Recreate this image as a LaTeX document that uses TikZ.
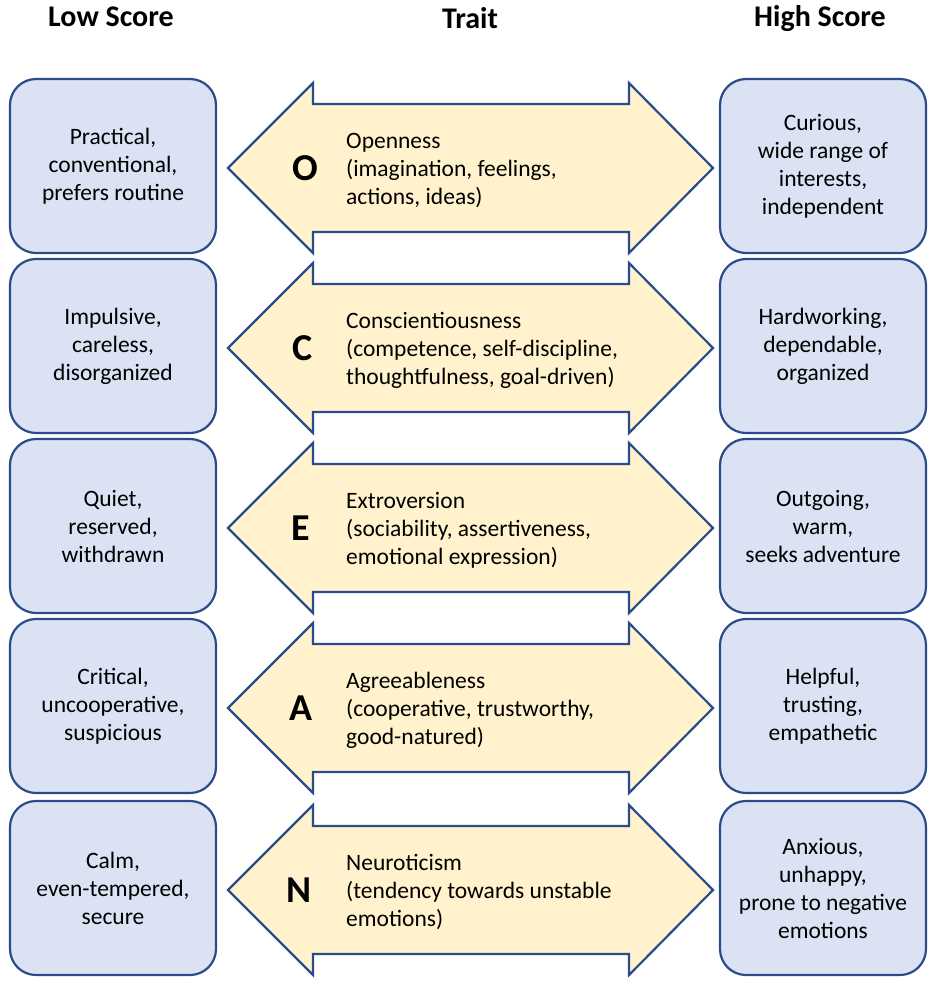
\documentclass[tikz,border=0pt]{standalone}
\usepackage{fontspec}
\setmainfont{Carlito}
\definecolor{boxfill}{HTML}{DAE2F3}
\definecolor{arrowfill}{HTML}{FFF2CC}
\definecolor{edgeblue}{HTML}{2B4C8A}
\begin{document}
\begin{tikzpicture}[x=1pt,y=-1pt,
  scorebox/.style={draw=edgeblue, fill=boxfill, line width=2.2pt, rounded corners=26pt,
    minimum width=206pt, minimum height=174pt, align=center, inner sep=0pt,
    font=\fontsize{23.5}{28}\selectfont},
  traitarrow/.style={draw=edgeblue, fill=arrowfill, line width=2.2pt, line join=miter},
  traittext/.style={anchor=west, align=left, inner sep=0pt, font=\fontsize{23.5}{28}\selectfont},
  letter/.style={inner sep=0pt, font=\fontsize{38}{40}\selectfont\bfseries},
  header/.style={anchor=base, inner sep=0pt, font=\fontsize{30}{36}\selectfont\bfseries}]
\useasboundingbox (0,0) rectangle (935,989);
\fill[white] (0,0) rectangle (935,989);

\node[header] (hlow) at (111,26) {Low Score};
\node[header] (htrait) at (470,28) {Trait};
\node[header] (hhigh) at (820,26) {High Score};

\foreach \c/\L/\lx/\ltxt/\ttxt/\rtxt [count=\i] in {
  168/O/305/{Practical,\\conventional,\\prefers routine}/{Openness\\(imagination, feelings,\\actions, ideas)}/{Curious,\\wide range of\\interests,\\independent},
  348/C/303/{Impulsive,\\careless,\\disorganized}/{Conscientiousness\\(competence, self-discipline,\\thoughtfulness, goal-driven)}/{Hardworking,\\dependable,\\organized},
  528/E/301/{Quiet,\\reserved,\\withdrawn}/{Extroversion\\(sociability, assertiveness,\\emotional expression)}/{Outgoing,\\warm,\\seeks adventure},
  708/A/301/{Critical,\\uncooperative,\\suspicious}/{Agreeableness\\(cooperative, trustworthy,\\good-natured)}/{Helpful,\\trusting,\\empathetic},
  890/N/299/{Calm,\\even-tempered,\\secure}/{Neuroticism\\(tendency towards unstable\\emotions)}/{Anxious,\\unhappy,\\prone to negative\\emotions}}
{
  \node[scorebox] (low\i) at (113,\c-2) {\ltxt};
  \node[scorebox] (high\i) at (823,\c-2) {\rtxt};
  \draw[traitarrow] (228,\c) -- (313,\c-85) -- (313,\c-64) -- (629,\c-64) -- (629,\c-85)
    -- (713,\c) -- (629,\c+85) -- (629,\c+64) -- (313,\c+64) -- (313,\c+85) -- cycle;
  \node[letter] (let\i) at (\lx,\c) {\L};
  \node[traittext] (trait\i) at (346,\c+2) {\ttxt};
}
\end{tikzpicture}
\end{document}
